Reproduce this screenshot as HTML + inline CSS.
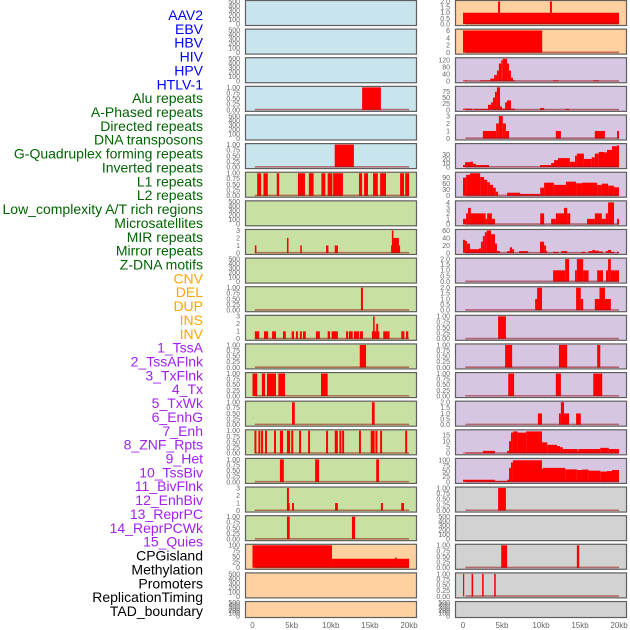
<!DOCTYPE html>
<html><head><meta charset="utf-8"><style>
html,body{margin:0;padding:0;background:#fff;}
svg{display:block;font-family:"Liberation Sans",sans-serif;}
</style></head><body>
<svg id="chart" width="630" height="630" viewBox="0 0 630 630" xmlns="http://www.w3.org/2000/svg"></svg>
<script>
const labels = ["AAV2","EBV","HBV","HIV","HPV","HTLV-1","Alu repeats","A-Phased repeats","Directed repeats","DNA transposons","G-Quadruplex forming repeats","Inverted repeats","L1 repeats","L2 repeats","Low_complexity A/T rich regions","Microsatellites","MIR repeats","Mirror repeats","Z-DNA motifs","CNV","DEL","DUP","INS","INV","1_TssA","2_TssAFlnk","3_TxFlnk","4_Tx","5_TxWk","6_EnhG","7_Enh","8_ZNF_Rpts","9_Het","10_TssBiv","11_BivFlnk","12_EnhBiv","13_ReprPC","14_ReprPCWk","15_Quies","CPGisland","Methylation","Promoters","ReplicationTiming","TAD_boundary"];
const xTickValues = [0,5,10,15,20];
const xTickLabels = ["0","5kb","10kb","15kb","20kb"];

// data: [startKb, endKb, value]
const hiv = [[14.0,16.4,1]];
const htlv = [[10.5,12.95,1]];
const alu = [[0.6,1.1,1],[1.4,1.95,1],[3.1,3.4,1],[5.8,6.7,1],[7.2,7.8,1],[8.8,9.3,1],[9.6,10.2,1],[10.3,11.55,1],[13.6,14.0,1],[14.25,14.75,1],[15.4,16.0,1],[16.3,17.05,1],[18.85,19.35,1],[19.5,20.0,1]];
const directed = [[0.3,0.5,1],[4.4,4.6,2],[6.1,6.3,1],[9.4,9.7,1],[10.5,10.9,1],[17.7,18.85,1],[18.0,18.7,2],[17.8,18.0,3]];
const gquad = [[13.85,14.1,1]];
const inverted = [[0.3,0.85,1],[1.47,2.0,1],[2.5,3.0,1],[3.9,4.25,1],[5.0,5.3,1],[5.55,5.8,1],[6.05,6.3,1],[6.45,6.8,1],[8.1,8.6,1],[9.6,9.9,1],[10.1,10.6,1],[10.6,10.9,1],[11.95,12.2,1],[12.3,12.8,1],[12.95,13.6,1],[13.7,14.1,1],[15.25,16.2,1],[15.8,16.05,2],[15.4,15.6,3],[16.7,17.2,1],[17.2,17.5,1],[19.0,19.4,1],[19.6,19.9,1]];
const l1 = [[13.7,14.5,1]];
const l2 = [[0,0.6,1],[1.2,1.6,1],[1.85,3.0,1],[3.3,4.15,1],[8.75,9.6,1]];
const lowComplexity = [[5.05,5.4,1],[15.25,15.6,1]];
const microsat = [[0.25,0.5,1],[0.75,1.0,1],[1.1,1.35,1],[1.6,1.85,1],[2.75,3.0,1],[3.5,3.9,1],[4.4,4.8,1],[4.95,5.2,1],[5.95,6.2,1],[7.1,7.35,1],[9.4,9.65,1],[10.5,10.9,1],[11.1,11.35,1],[11.45,11.7,1],[13.6,13.85,1],[15.1,15.6,1],[15.7,15.95,1],[16.3,16.55,1],[19.5,19.75,1]];
const mir = [[3.5,4.0,1],[8.0,8.5,1],[15.8,16.15,1]];
const mirror = [[4.4,4.75,1],[4.4,4.65,3],[5.05,5.3,1],[10.55,10.9,1],[16.4,16.65,1],[19.0,19.35,1]];
const zdna = [[4.4,4.75,1],[12.7,13.1,1]];
const cnv = [[0,10.15,100],[10.15,20,40],[18.2,18.4,45]];
const ins = [[0,20,1],[4.5,4.75,2],[11.15,11.4,2]];
const inv = [[0,10.15,6]];
const tssA = [[0,0.5,5],[2.2,3.5,5],[3.5,4.0,15],[4.0,4.35,35],[4.35,4.6,60],[4.6,4.9,100],[4.9,5.1,118],[5.1,5.65,127],[5.65,5.9,100],[5.9,6.15,60],[6.15,6.4,20],[6.4,6.65,5],[11.55,12.2,5],[16.7,17.45,5]];
const tssAFlnk = [[0,1.2,5],[1.4,3.2,4],[3.2,3.6,21],[3.6,3.85,31],[3.85,4.1,51],[4.1,4.35,75],[4.35,4.75,93],[4.75,5.0,14],[5.0,5.4,5],[5.4,5.65,31],[5.65,6.15,39],[6.15,6.65,5],[9.9,10.4,8],[13.1,13.6,4]];
const txFlnk = [[2.55,4.25,1],[4.25,4.6,2],[4.6,5.1,3],[5.1,5.5,2],[5.5,5.9,1],[11.9,12.55,1],[16.9,18.2,1],[19.75,20,1]];
const tx = [[0,0.26,5],[0.26,0.9,12],[0.9,1.28,13],[1.28,1.67,8],[1.67,3.33,5],[9.87,11.3,5],[11.3,11.67,10],[11.67,12.18,17],[12.18,13.7,22],[13.7,14.36,13],[14.36,14.6,28],[14.6,15.5,33],[15.5,16.5,20],[16.5,16.9,24],[16.9,17.4,33],[17.4,18.08,37],[18.08,18.46,36],[18.46,19.1,42],[19.1,19.74,51],[19.74,20,53]];
const txWk = [[0,0.4,90],[0.4,0.9,104],[0.9,2.2,112],[2.2,2.7,93],[2.7,3.1,79],[3.1,3.45,67],[3.45,3.85,54],[3.85,4.2,40],[4.2,4.5,20],[5.65,7.3,15],[7.3,9.9,9],[9.9,10.4,40],[10.4,11.65,65],[11.65,13.2,54],[13.2,14.5,70],[14.5,15.25,62],[15.25,17.2,65],[17.2,17.8,54],[17.8,18.6,60],[18.6,19.35,50],[19.35,20,42]];
const enhG = [[0,0.4,1],[0.4,0.65,2],[0.65,1.0,3],[1.0,2.9,2],[2.9,3.1,1],[3.1,3.7,2],[3.7,4.1,1],[9.9,10.4,2],[11.3,11.9,1],[11.9,12.95,2],[12.95,13.35,3],[13.35,13.75,2],[15.9,16.9,1],[16.9,17.8,2],[17.8,18.3,1],[18.3,18.6,2],[18.6,19.36,4],[19.75,20,1]];
const enh = [[0,0.26,35],[0.26,0.5,32],[0.5,0.9,25],[0.9,2.05,10],[2.05,2.3,12],[2.3,2.55,30],[2.55,2.8,45],[2.8,3.05,55],[3.05,3.6,60],[3.6,4.1,50],[4.1,4.35,25],[4.35,4.75,5],[5.65,6.0,5],[6.0,6.3,15],[6.3,6.55,10],[7.2,7.8,5],[7.8,8.35,5],[9.87,10.4,30],[10.4,10.65,20],[10.65,10.8,5],[11.55,12.2,3],[12.6,13.35,5],[15.2,15.7,3],[16.1,16.6,5],[16.6,16.9,8],[16.9,17.4,6],[17.4,17.9,4],[18.33,18.6,5],[18.6,19.0,8],[19.0,19.36,3],[19.74,20,3]];
const znf = [[11.55,13.1,1],[13.1,13.6,2],[14.36,14.6,1],[14.6,15.4,2],[15.4,16.1,1],[17.2,17.95,1],[18.33,18.6,1],[18.6,18.95,2],[18.95,20,1]];
const het = [[9.25,9.5,1],[9.5,10.13,2],[14.5,15.1,2],[15.1,15.4,1],[16.9,17.5,1],[17.5,18.2,2],[18.2,18.95,1]];
const tssBiv = [[4.5,5.5,1]];
const bivFlnk = [[5.4,6.3,1],[12.3,13.35,1],[17.2,17.6,1]];
const enhBiv = [[5.8,6.55,1],[11.9,12.55,1],[16.7,17.85,1]];
const reprPC = [[9.6,10.13,1],[12.3,12.55,1],[12.55,12.95,2],[12.95,13.6,1],[14.5,15.1,1]];
const reprPCWk = [[0,2.55,0.5],[2.55,4.1,2],[5.65,5.9,2],[5.9,6.15,10],[6.15,6.4,17],[6.4,7.0,18],[7.0,8.1,17],[8.1,10.13,18],[10.13,10.8,9],[10.8,12.05,7],[12.05,12.45,6],[12.45,12.8,5],[12.8,14.7,3.5],[14.7,14.8,2],[14.8,17.6,3.5],[17.6,18.7,4.5],[18.7,20,3.5]];
const quies = [[0,4.1,10],[4.1,5.65,5],[5.65,5.9,10],[5.9,6.15,65],[6.15,6.4,90],[6.4,10.13,100],[10.13,10.25,60],[10.25,13.1,65],[13.1,14.6,58],[14.6,15.25,55],[15.25,16.1,57],[16.1,17.6,52],[17.6,18.46,48],[18.46,19.1,50],[19.1,20,55]];
const cpg = [[4.5,5.5,1]];
const promoters = [[4.9,5.65,1],[14.6,14.9,1]];
const replication = [[0,0.15,1],[1.1,1.3,1],[2.45,2.65,1],[4.0,4.2,1]];

// tick sets
const tEmpty = {max:500, v:[0,100,200,300,400,500], l:["0","100","200","300","400","500"]};
const tUnit = {max:1, v:[0,0.25,0.5,0.75,1], l:["0.00","0.25","0.50","0.75","1.00"]};
const tThree = {max:3, v:[0,1,2,3], l:["0","1","2","3"]};
const tTwo = {max:2, v:[0,0.5,1,1.5,2], l:["0.0","0.5","1.0","1.5","2.0"]};
const tCnv = {max:100, v:[0,25,50,75,100], l:["0","25","50","75","100"]};
const tInv = {max:6.1, v:[0,2,4,6], l:["0","2","4","6"]};
const tTssA = {max:127, v:[0,40,80,120], l:["0","40","80","120"]};
const tTssAF = {max:93, v:[0,25,50,75], l:["0","25","50","75"]};
const tTx = {max:55, v:[0,10,20,30], l:["0","10","20","30"]};
const tTxWk = {max:112, v:[0,30,60,90], l:["0","30","60","90"]};
const tEnhG = {max:4.1, v:[0,1,2,3,4], l:["0","1","2","3","4"]};
const tEnh = {max:60, v:[0,20,40,60], l:["0","20","40","60"]};
const tRPW = {max:18.5, v:[0,5,10,15], l:["0","5","10","15"]};
const tQuies = {max:104, v:[0,25,50,75,100], l:["0","25","50","75","100"]};

const panelData = [null,null,null,hiv,null,htlv,alu,null,directed,null,gquad,inverted,l1,l2,lowComplexity,microsat,mir,mirror,zdna,cnv,null,null,
  ins,inv,tssA,tssAFlnk,txFlnk,tx,txWk,enhG,enh,znf,het,tssBiv,bivFlnk,enhBiv,reprPC,reprPCWk,quies,cpg,null,promoters,replication,null];
const panelTicks = [tEmpty,tEmpty,tEmpty,tUnit,tEmpty,tUnit,tUnit,tEmpty,tThree,tEmpty,tUnit,tThree,tUnit,tUnit,tUnit,tUnit,tUnit,tThree,tUnit,tCnv,tEmpty,tEmpty,
  tTwo,tInv,tTssA,tTssAF,tThree,tTx,tTxWk,tEnhG,tEnh,tTwo,tTwo,tUnit,tUnit,tUnit,tTwo,tRPW,tQuies,tUnit,tEmpty,tUnit,tUnit,tEmpty];

const NS = "http://www.w3.org/2000/svg";
const svg = document.getElementById("chart");
function mk(tag, attrs, parent){const e=document.createElementNS(NS,tag);for(const k in attrs)e.setAttribute(k,attrs[k]);(parent||svg).appendChild(e);return e;}
function slug(s){return s.toLowerCase().replace(/[^a-z0-9]+/g,'-').replace(/^-|-$/g,'');}

function groupColor(i){ if(i<6)return "#0000ff"; if(i<19)return "#006400"; if(i<24)return "#ffa500"; if(i<39)return "#a020f0"; return "#000000"; }
function panelFill(i){ if(i<6)return "#c8e4ec"; if(i<19)return "#c8e0a2"; if(i<24)return "#ffd0a0"; if(i<39)return "#d6c6e2"; return "#d2d2d2"; }

labels.forEach((t,i)=>{
  const e=mk("text",{x:203,y:15+i*13.86+5,"text-anchor":"end","font-size":"14",fill:groupColor(i)});
  
  
  e.textContent=t;
});

const colLeft=[245.5,455.5], colRight=[416.5,626.5], colX0=[252.5,463], colK=[7.83,7.8], tickRight=[240,450];
function xScale(c,kb){return colX0[c]+kb*colK[c];}

for(let p=0;p<44;p++){
  const c = p<22?0:1, r = p%22;
  const top = r*28.62 + 0.5, h = r===21?16:25;
  const g = mk("g",{});
  
  
  const rect = mk("rect",{x:colLeft[c],y:top,width:colRight[c]-colLeft[c],height:h,fill:panelFill(p),stroke:"#5f5f5f","stroke-width":1.2},g);
  
  
  const yb = top+h-1.5, yt = top+1;
  const tk = panelTicks[p];
  const yS = v => yb - v/tk.max*(yb-yt);
  tk.v.forEach((v,k)=>{
    const tx=mk("text",{x:tickRight[c],y:yS(v)+2.4,"text-anchor":"end","font-size":"7",fill:"#666"},g);
    
    
    tx.textContent=tk.l[k];
  });
  const d = panelData[p];
  if(d){
    d.forEach(s=>{
      const x0=xScale(c,s[0]), x1=xScale(c,s[1]);
      const b=mk("rect",{x:x0,y:yS(s[2]),width:Math.max(1.2,x1-x0),height:yb-yS(s[2]),fill:"#ff0000"},g);
      
      
    });
    const bl=mk("line",{x1:xScale(c,0.3),x2:xScale(c,20),y1:yb-0.3,y2:yb-0.3,stroke:"rgba(150,20,20,0.55)","stroke-width":1.6},g);
    
    
  }
}

for(let c=0;c<2;c++){
  xTickValues.forEach((v,k)=>{
    const t=mk("text",{x:xScale(c,v),y:628,"text-anchor":"middle","font-size":"8",fill:"#666"});
    
    
    t.textContent=xTickLabels[k];
  });
}
</script>
</body></html>
